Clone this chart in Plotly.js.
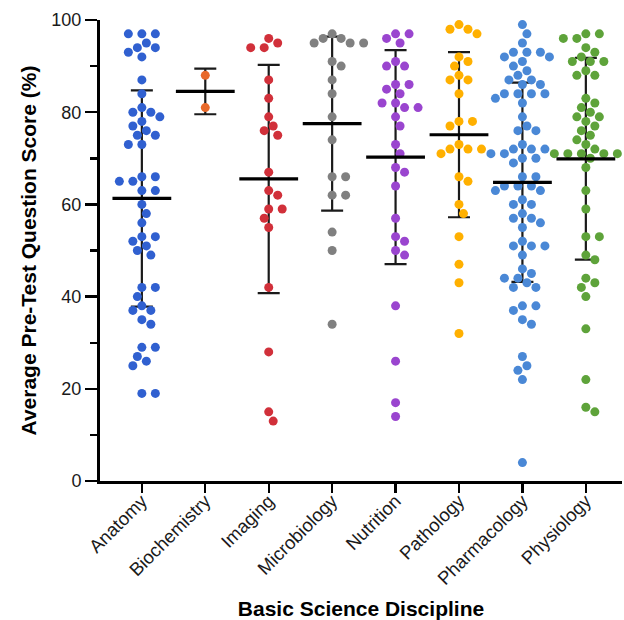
<!DOCTYPE html>
<html><head><meta charset="utf-8">
<script src="https://cdn.plot.ly/plotly-3.0.1.min.js"></script>
<style>html,body{margin:0;padding:0;background:#fff}</style>
</head><body>
<div id="chart" style="width:624px;height:620px"></div>
<script>
// ---- data ----
const categories = ["Anatomy","Biochemistry","Imaging","Microbiology","Nutrition","Pathology","Pharmacology","Physiology"];
const anatomy = [97,97,97,95,94,94,93,92,87,84,81,80,80,79,78,77,76,75,75,73,73,66,66,65,65,63,63,60,58,56,53,53,52,51,50,49,42,42,40,38,37,37,35,34,29,29,27,26,25,19,19];
const biochemistry = [88,81];
const imaging = [96,95,94,94,87,83,79,77,76,75,67,63,62,59,59,57,55,42,28,15,13];
const microbiology = [97,96,96,95,95,95,91,90,87,84,79,74,66,66,62,62,54,50,34];
const nutrition = [97,97,96,95,91,90,90,86,86,85,84,82,82,81,81,79,77,73,71,68,67,64,57,53,52,50,49,38,26,17,14];
const pathology = [99,98,98,97,92,91,90,88,87,87,84,78,78,77,73,72,72,72,71,66,65,60,58,53,47,43,32];
const pharmacology = [99,97,95,93,93,93,92,92,91,90,89,88,87,87,86,86,84,84,84,84,83,82,79,77,76,76,73,72,72,72,71,71,70,70,69,66,66,64,64,64,63,63,61,60,60,58,57,57,56,55,52,51,51,51,49,46,45,44,44,43,42,42,38,38,37,35,34,27,25,24,22,4];
const physiology = [97,97,96,96,94,93,92,91,91,91,89,88,88,83,82,81,80,79,79,78,77,76,75,74,73,72,71,71,71,71,71,70,68,63,59,53,53,49,48,44,43,42,40,33,22,16,15];
const seriesValues = [anatomy,biochemistry,imaging,microbiology,nutrition,pathology,pharmacology,physiology];
const yTickVals = [0,20,40,60,80,100];

// ---- style ----
const colors = ["#3060d0","#e8692a","#d1303a","#808080","#9a45cf","#ffb000","#4a88d6","#5ea33a"];
const W = 624, H = 620;
const M = {l:100, r:2, t:20, b:139};
const xRange = [-0.66, 7.57], yRange = [0, 100];
const pxX = (W - M.l - M.r) / (xRange[1] - xRange[0]);
const pxY = (H - M.t - M.b) / (yRange[1] - yRange[0]);
const FONT = "Liberation Sans, Arial, Helvetica, sans-serif";

function mean(a){ return a.reduce((s,v)=>s+v,0)/a.length; }
function sd(a){ const m=mean(a); return Math.sqrt(a.reduce((s,v)=>s+(v-m)*(v-m),0)/(a.length-1)); }

// beeswarm layout computed from the values (pixel space), returned in axis units
function swarm(vals, d, g){
  const idx = vals.map((v,i)=>i).sort((a,b)=>vals[b]-vals[a]);
  const placed = []; const off = new Array(vals.length);
  for (const i of idx){
    const y = vals[i]*pxY;
    const near = placed.filter(p=>Math.abs(p.y-y) < d);
    let chosen = null;
    for (let k=0; k<60 && chosen===null; k++){
      let cands = k===0 ? [0] : [k,-k];
      if (k>0){ const s = near.reduce((a,p)=>a+p.x,0); if (s>0) cands = [-k,k]; }
      for (const c of cands){
        const x = c*g;
        if (near.every(p=>Math.hypot(p.x-x,p.y-y) >= d-0.01)){ chosen = x; break; }
      }
    }
    placed.push({x:chosen,y}); off[i] = chosen;
  }
  return off.map(o=>o/pxX);
}

const traces = [];
const means = seriesValues.map(mean);
const sds = seriesValues.map(sd);
const xi = categories.map((c,i)=>i);

// SD bars (behind the dots)
traces.push({
  type:"scatter", mode:"markers", x: xi, y: means, showlegend:false, hoverinfo:"skip",
  marker:{size:1, color:"rgba(0,0,0,0)"},
  error_y:{type:"data", array: sds, symmetric:true, width:11, thickness:2.2, color:"#1a1a1a"},
  cliponaxis:false
});

seriesValues.forEach((vals, i)=>{
  const offs = swarm(vals, 9.4, 4.5);
  traces.push({
    type:"scatter", mode:"markers", name: categories[i], showlegend:false,
    x: vals.map((v,j)=> i + offs[j]), y: vals,
    marker:{size:9, color: colors[i], line:{width:0}},
    cliponaxis:false
  });
});

// mean lines on top
traces.push({
  type:"scatter", mode:"markers", x: xi, y: means, showlegend:false, hoverinfo:"skip",
  marker:{symbol:"line-ew", size:42, color:"#000", line:{width:3.2, color:"#000"}},
  cliponaxis:false
});

const layout = {
  width: W, height: H, margin: M,
  paper_bgcolor:"#fff", plot_bgcolor:"#fff",
  font:{family: FONT, color:"#1a1a1a"},
  xaxis:{
    range: xRange, tickmode:"array", tickvals: xi, ticktext: categories,
    tickangle:-45, ticks:"outside", ticklen:9, tickwidth:2.4, tickcolor:"#000",
    ticklabelstandoff:-10,
    showline:true, linewidth:3, linecolor:"#000", showgrid:false, zeroline:false,
    tickfont:{family:FONT, size:18.5, color:"#1a1a1a"},
    title:{text:"Basic Science Discipline", font:{family:FONT, size:21, color:"#000", weight:"bold"}, standoff:14},
    automargin:false, fixedrange:true
  },
  yaxis:{
    range: yRange, tickmode:"array", tickvals: yTickVals,
    ticks:"outside", ticklen:12, tickwidth:2.4, tickcolor:"#000",
    minor:{tickmode:"linear", tick0:10, dtick:20, ticks:"outside", ticklen:7, tickwidth:2.4, tickcolor:"#000", showgrid:false},
    showline:true, linewidth:3, linecolor:"#000", showgrid:false, zeroline:false,
    tickfont:{family:FONT, size:18, color:"#1a1a1a"},
    title:{text:"Average Pre-Test Question Score (%)", font:{family:FONT, size:21, color:"#000", weight:"bold"}, standoff:10},
    automargin:false, fixedrange:true
  }
};

Plotly.newPlot("chart", traces, layout, {displayModeBar:false, staticPlot:true});
</script>
</body></html>
